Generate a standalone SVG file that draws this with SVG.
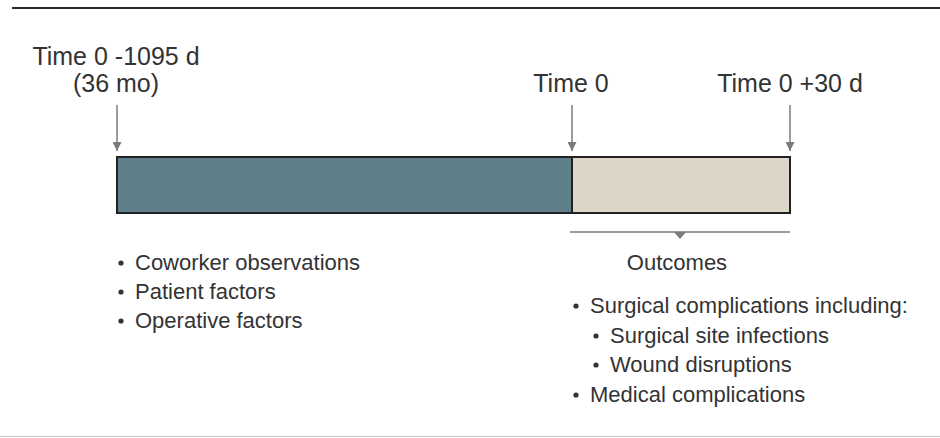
<svg xmlns="http://www.w3.org/2000/svg" width="940" height="438" viewBox="0 0 940 438">
  <defs>
    <style>
      .lbl { font-family: "Liberation Sans", Arial, sans-serif; fill: #333; }
      .time { font-size: 25px; }
      .item { font-size: 22px; }
      .tick { stroke: #7a7a7a; stroke-width: 1.5; fill: none; }
      .bullet { fill: #333; }
    </style>
    <marker id="arrowDown" viewBox="0 0 10 10" refX="10" refY="5" markerWidth="9" markerHeight="9" markerUnits="userSpaceOnUse" orient="auto">
      <path d="M0,0 L10,5 L0,10 Z" fill="#7a7a7a"/>
    </marker>
  </defs>

  <rect width="940" height="438" fill="#ffffff"/>

  <!-- frame rules -->
  <line x1="12" y1="8" x2="940" y2="8" stroke="#2a2a2a" stroke-width="2"/>
  <line x1="0" y1="436.5" x2="940" y2="436.5" stroke="#cfcfcf" stroke-width="1.5"/>

  <!-- time point labels -->
  <g id="label-start">
    <text class="lbl time" x="116" y="65" text-anchor="middle">Time 0 -1095 d</text>
    <text class="lbl time" x="116" y="92" text-anchor="middle">(36 mo)</text>
  </g>
  <g id="label-time0">
    <text class="lbl time" x="571" y="92" text-anchor="middle">Time 0</text>
  </g>
  <g id="label-end">
    <text class="lbl time" x="790" y="92" text-anchor="middle">Time 0 +30 d</text>
  </g>

  <!-- timeline bar -->
  <g id="period-exposure">
    <rect x="117" y="157" width="455" height="56" fill="#5e7f8a" stroke="#222" stroke-width="2"/>
  </g>
  <g id="period-followup">
    <rect x="572" y="157" width="218" height="56" fill="#ddd5c8" stroke="#222" stroke-width="2"/>
  </g>

  <!-- connectors -->
  <g id="connectors">
    <line class="tick" x1="117" y1="105" x2="117" y2="151" marker-end="url(#arrowDown)"/>
    <line class="tick" x1="572" y1="105" x2="572" y2="151" marker-end="url(#arrowDown)"/>
    <line class="tick" x1="790" y1="105" x2="790" y2="151" marker-end="url(#arrowDown)"/>
    <line class="tick" x1="570" y1="232" x2="790" y2="232"/>
    <path d="M674,232 L686,232 L680,239 Z" fill="#7a7a7a"/>
  </g>

  <!-- exposure list -->
  <g id="exposures">
    <circle class="bullet" cx="121" cy="263" r="2.6"/>
    <text class="lbl item" x="135" y="270">Coworker observations</text>
    <circle class="bullet" cx="121" cy="292" r="2.6"/>
    <text class="lbl item" x="135" y="299">Patient factors</text>
    <circle class="bullet" cx="121" cy="321" r="2.6"/>
    <text class="lbl item" x="135" y="328">Operative factors</text>
  </g>

  <!-- outcome list -->
  <g id="outcomes">
    <text class="lbl item" x="677" y="270" text-anchor="middle">Outcomes</text>
    <circle class="bullet" cx="576" cy="306" r="2.6"/>
    <text class="lbl item" x="590" y="313">Surgical complications including:</text>
    <circle class="bullet" cx="596" cy="336" r="2.6"/>
    <text class="lbl item" x="610" y="343">Surgical site infections</text>
    <circle class="bullet" cx="596" cy="365" r="2.6"/>
    <text class="lbl item" x="610" y="372">Wound disruptions</text>
    <circle class="bullet" cx="576" cy="395" r="2.6"/>
    <text class="lbl item" x="590" y="402">Medical complications</text>
  </g>
</svg>
